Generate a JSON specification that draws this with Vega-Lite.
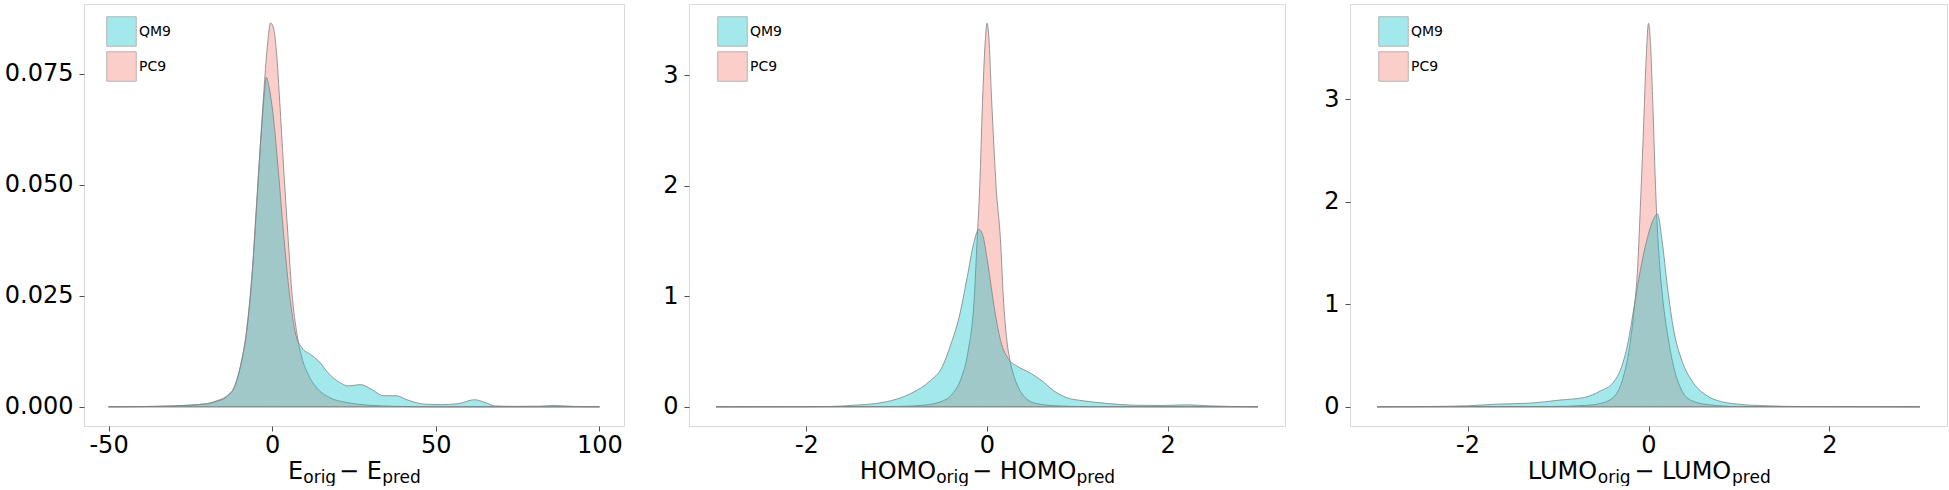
{
  "$schema": "https://vega.github.io/schema/vega-lite/v6.json",
  "padding": {"left": 3, "top": 3, "right": 0, "bottom": 0},
  "background": "white",
  "spacing": 65,
  "bounds": "flush",
  "datasets": {
    "e": [
      {"x": -50, "d": 0, "set": "QM9"}, {"x": -40, "d": 0.00005, "set": "QM9"}, {"x": -30, "d": 0.0002, "set": "QM9"}, {"x": -25, "d": 0.0004, "set": "QM9"}, {"x": -20, "d": 0.0007, "set": "QM9"}, {"x": -17, "d": 0.0012, "set": "QM9"}, {"x": -14.2, "d": 0.0021, "set": "QM9"}, {"x": -11.7, "d": 0.0043, "set": "QM9"}, {"x": -9.8, "d": 0.0088, "set": "QM9"}, {"x": -7.9, "d": 0.0163, "set": "QM9"}, {"x": -6, "d": 0.031, "set": "QM9"}, {"x": -4.7, "d": 0.046, "set": "QM9"}, {"x": -3.4, "d": 0.061, "set": "QM9"}, {"x": -2.4, "d": 0.0705, "set": "QM9"}, {"x": -1.8, "d": 0.0742, "set": "QM9"}, {"x": -0.9, "d": 0.0718, "set": "QM9"}, {"x": 0.4, "d": 0.065, "set": "QM9"}, {"x": 1.6, "d": 0.0556, "set": "QM9"}, {"x": 3.5, "d": 0.0388, "set": "QM9"}, {"x": 5.3, "d": 0.0253, "set": "QM9"}, {"x": 7.2, "d": 0.0163, "set": "QM9"}, {"x": 9.1, "d": 0.0133, "set": "QM9"}, {"x": 11.7, "d": 0.0118, "set": "QM9"}, {"x": 14.2, "d": 0.0103, "set": "QM9"}, {"x": 17.5, "d": 0.0073, "set": "QM9"}, {"x": 20.6, "d": 0.0055, "set": "QM9"}, {"x": 23.2, "d": 0.0047, "set": "QM9"}, {"x": 27, "d": 0.005, "set": "QM9"}, {"x": 30.2, "d": 0.004, "set": "QM9"}, {"x": 34, "d": 0.0025, "set": "QM9"}, {"x": 37.8, "d": 0.0025, "set": "QM9"}, {"x": 41.5, "d": 0.0015, "set": "QM9"}, {"x": 46.6, "d": 0.0006, "set": "QM9"}, {"x": 51.7, "d": 0.0005, "set": "QM9"}, {"x": 56.8, "d": 0.0007, "set": "QM9"}, {"x": 61.8, "d": 0.0016, "set": "QM9"}, {"x": 65, "d": 0.001, "set": "QM9"}, {"x": 68, "d": 0.0002, "set": "QM9"}, {"x": 75, "d": 0.0001, "set": "QM9"}, {"x": 82, "d": 0.00015, "set": "QM9"}, {"x": 86, "d": 0.0003, "set": "QM9"}, {"x": 92, "d": 0.0001, "set": "QM9"}, {"x": 100, "d": 0, "set": "QM9"},
      {"x": -50, "d": 0, "set": "PC9"}, {"x": -30, "d": 0.0002, "set": "PC9"}, {"x": -20, "d": 0.0007, "set": "PC9"}, {"x": -16.8, "d": 0.0014, "set": "PC9"}, {"x": -13.6, "d": 0.0026, "set": "PC9"}, {"x": -11.2, "d": 0.005, "set": "PC9"}, {"x": -9.6, "d": 0.0095, "set": "PC9"}, {"x": -7.9, "d": 0.0168, "set": "PC9"}, {"x": -6, "d": 0.0315, "set": "PC9"}, {"x": -4.7, "d": 0.0465, "set": "PC9"}, {"x": -3.4, "d": 0.0615, "set": "PC9"}, {"x": -2.4, "d": 0.0725, "set": "PC9"}, {"x": -1.5, "d": 0.081, "set": "PC9"}, {"x": -0.5, "d": 0.0864, "set": "PC9"}, {"x": 0.4, "d": 0.0853, "set": "PC9"}, {"x": 1.3, "d": 0.08, "set": "PC9"}, {"x": 2.3, "d": 0.0688, "set": "PC9"}, {"x": 3.5, "d": 0.0538, "set": "PC9"}, {"x": 4.8, "d": 0.0388, "set": "PC9"}, {"x": 6, "d": 0.026, "set": "PC9"}, {"x": 7.6, "d": 0.0163, "set": "PC9"}, {"x": 9.1, "d": 0.011, "set": "PC9"}, {"x": 11, "d": 0.0073, "set": "PC9"}, {"x": 13.6, "d": 0.0043, "set": "PC9"}, {"x": 17.5, "d": 0.0021, "set": "PC9"}, {"x": 22.6, "d": 0.001, "set": "PC9"}, {"x": 29, "d": 0.0004, "set": "PC9"}, {"x": 38, "d": 0.0001, "set": "PC9"}, {"x": 50, "d": 0, "set": "PC9"}, {"x": 100, "d": 0, "set": "PC9"}
    ],
    "h": [
      {"x": -3, "d": 0, "set": "QM9"}, {"x": -2, "d": 0.001, "set": "QM9"}, {"x": -1.74, "d": 0.003, "set": "QM9"}, {"x": -1.46, "d": 0.015, "set": "QM9"}, {"x": -1.23, "d": 0.03, "set": "QM9"}, {"x": -1.0, "d": 0.07, "set": "QM9"}, {"x": -0.82, "d": 0.13, "set": "QM9"}, {"x": -0.63, "d": 0.235, "set": "QM9"}, {"x": -0.5, "d": 0.355, "set": "QM9"}, {"x": -0.4, "d": 0.566, "set": "QM9"}, {"x": -0.31, "d": 0.807, "set": "QM9"}, {"x": -0.22, "d": 1.17, "set": "QM9"}, {"x": -0.15, "d": 1.47, "set": "QM9"}, {"x": -0.09, "d": 1.605, "set": "QM9"}, {"x": -0.05, "d": 1.56, "set": "QM9"}, {"x": 0.01, "d": 1.29, "set": "QM9"}, {"x": 0.08, "d": 0.9, "set": "QM9"}, {"x": 0.15, "d": 0.6, "set": "QM9"}, {"x": 0.24, "d": 0.43, "set": "QM9"}, {"x": 0.33, "d": 0.37, "set": "QM9"}, {"x": 0.47, "d": 0.31, "set": "QM9"}, {"x": 0.61, "d": 0.235, "set": "QM9"}, {"x": 0.74, "d": 0.145, "set": "QM9"}, {"x": 0.88, "d": 0.084, "set": "QM9"}, {"x": 1.07, "d": 0.054, "set": "QM9"}, {"x": 1.34, "d": 0.03, "set": "QM9"}, {"x": 1.62, "d": 0.015, "set": "QM9"}, {"x": 1.94, "d": 0.012, "set": "QM9"}, {"x": 2.22, "d": 0.018, "set": "QM9"}, {"x": 2.45, "d": 0.009, "set": "QM9"}, {"x": 2.72, "d": 0.003, "set": "QM9"}, {"x": 3, "d": 0, "set": "QM9"},
      {"x": -3, "d": 0, "set": "PC9"}, {"x": -1.0, "d": 0.003, "set": "PC9"}, {"x": -0.7, "d": 0.015, "set": "PC9"}, {"x": -0.5, "d": 0.05, "set": "PC9"}, {"x": -0.38, "d": 0.12, "set": "PC9"}, {"x": -0.29, "d": 0.25, "set": "PC9"}, {"x": -0.21, "d": 0.5, "set": "PC9"}, {"x": -0.14, "d": 1.0, "set": "PC9"}, {"x": -0.11, "d": 1.5, "set": "PC9"}, {"x": -0.08, "d": 2.0, "set": "PC9"}, {"x": -0.05, "d": 2.75, "set": "PC9"}, {"x": -0.02, "d": 3.3, "set": "PC9"}, {"x": 0.0, "d": 3.47, "set": "PC9"}, {"x": 0.02, "d": 3.35, "set": "PC9"}, {"x": 0.05, "d": 2.8, "set": "PC9"}, {"x": 0.08, "d": 2.3, "set": "PC9"}, {"x": 0.1, "d": 2.0, "set": "PC9"}, {"x": 0.15, "d": 1.5, "set": "PC9"}, {"x": 0.18, "d": 1.0, "set": "PC9"}, {"x": 0.22, "d": 0.6, "set": "PC9"}, {"x": 0.26, "d": 0.4, "set": "PC9"}, {"x": 0.31, "d": 0.25, "set": "PC9"}, {"x": 0.37, "d": 0.14, "set": "PC9"}, {"x": 0.44, "d": 0.07, "set": "PC9"}, {"x": 0.55, "d": 0.03, "set": "PC9"}, {"x": 0.75, "d": 0.01, "set": "PC9"}, {"x": 1.1, "d": 0.002, "set": "PC9"}, {"x": 3, "d": 0, "set": "PC9"}
    ],
    "l": [
      {"x": -3, "d": 0, "set": "QM9"}, {"x": -2.45, "d": 0.003, "set": "QM9"}, {"x": -2.0, "d": 0.01, "set": "QM9"}, {"x": -1.68, "d": 0.026, "set": "QM9"}, {"x": -1.31, "d": 0.036, "set": "QM9"}, {"x": -0.99, "d": 0.065, "set": "QM9"}, {"x": -0.71, "d": 0.091, "set": "QM9"}, {"x": -0.53, "d": 0.156, "set": "QM9"}, {"x": -0.39, "d": 0.238, "set": "QM9"}, {"x": -0.3, "d": 0.384, "set": "QM9"}, {"x": -0.23, "d": 0.612, "set": "QM9"}, {"x": -0.16, "d": 0.97, "set": "QM9"}, {"x": -0.09, "d": 1.33, "set": "QM9"}, {"x": -0.02, "d": 1.62, "set": "QM9"}, {"x": 0.05, "d": 1.82, "set": "QM9"}, {"x": 0.1, "d": 1.88, "set": "QM9"}, {"x": 0.15, "d": 1.62, "set": "QM9"}, {"x": 0.21, "d": 1.165, "set": "QM9"}, {"x": 0.28, "d": 0.742, "set": "QM9"}, {"x": 0.37, "d": 0.449, "set": "QM9"}, {"x": 0.48, "d": 0.254, "set": "QM9"}, {"x": 0.62, "d": 0.124, "set": "QM9"}, {"x": 0.75, "d": 0.065, "set": "QM9"}, {"x": 0.99, "d": 0.026, "set": "QM9"}, {"x": 1.31, "d": 0.01, "set": "QM9"}, {"x": 1.67, "d": 0.003, "set": "QM9"}, {"x": 3, "d": 0, "set": "QM9"},
      {"x": -3, "d": 0, "set": "PC9"}, {"x": -1.08, "d": 0.003, "set": "PC9"}, {"x": -0.71, "d": 0.013, "set": "PC9"}, {"x": -0.53, "d": 0.033, "set": "PC9"}, {"x": -0.39, "d": 0.091, "set": "PC9"}, {"x": -0.28, "d": 0.286, "set": "PC9"}, {"x": -0.21, "d": 0.58, "set": "PC9"}, {"x": -0.16, "d": 0.937, "set": "PC9"}, {"x": -0.12, "d": 1.36, "set": "PC9"}, {"x": -0.09, "d": 1.95, "set": "PC9"}, {"x": -0.06, "d": 2.6, "set": "PC9"}, {"x": -0.03, "d": 3.31, "set": "PC9"}, {"x": 0.0, "d": 3.74, "set": "PC9"}, {"x": 0.02, "d": 3.57, "set": "PC9"}, {"x": 0.05, "d": 2.89, "set": "PC9"}, {"x": 0.07, "d": 2.34, "set": "PC9"}, {"x": 0.09, "d": 1.88, "set": "PC9"}, {"x": 0.12, "d": 1.425, "set": "PC9"}, {"x": 0.16, "d": 1.035, "set": "PC9"}, {"x": 0.21, "d": 0.71, "set": "PC9"}, {"x": 0.28, "d": 0.384, "set": "PC9"}, {"x": 0.37, "d": 0.156, "set": "PC9"}, {"x": 0.48, "d": 0.059, "set": "PC9"}, {"x": 0.67, "d": 0.02, "set": "PC9"}, {"x": 0.99, "d": 0.003, "set": "PC9"}, {"x": 3, "d": 0, "set": "PC9"}
    ]
  },
  "hconcat": [
    {
      "width": 540, "height": 422,
      "data": {"name": "e"},
      "layer": [
        {"transform": [{"filter": "datum.set === 'PC9'"}],
         "mark": {"type": "area", "interpolate": "monotone", "stroke": "#808080", "strokeWidth": 0.8, "opacity": 1},
         "encoding": {
           "x": {"field": "x", "type": "quantitative", "scale": {"domain": [-57.5, 107.5], "nice": false, "zero": false},
                 "axis": {"orient": "bottom", "values": [-50, 0, 50, 100], "labelPadding": 2, "labelExpr": "replace(datum.label, '−', '-')", "title": "E", "titleX": 211.1, "titleY": 52.4, "titleFontSize": 24, "titleBaseline": "alphabetic", "titleAlign": "center"}},
           "y": {"field": "d", "type": "quantitative", "scale": {"domain": [-0.00432, 0.0907], "nice": false, "zero": false},
                 "axis": {"values": [0, 0.025, 0.05, 0.075], "format": ".3f", "title": null}},
           "color": {"field": "set", "type": "nominal", "scale": {"domain": ["QM9", "PC9"], "range": ["rgba(0,191,196,0.36)", "rgba(248,118,109,0.36)"]},
                     "legend": {"title": null, "orient": "none", "legendX": 22, "legendY": 12}}
         }},
        {"transform": [{"filter": "datum.set === 'QM9'"}],
         "mark": {"type": "area", "interpolate": "monotone", "stroke": "#808080", "strokeWidth": 0.8, "opacity": 1},
         "encoding": {
           "x": {"field": "x", "type": "quantitative", "axis": null},
           "y": {"field": "d", "type": "quantitative", "axis": {"values": [0, 0.025, 0.05, 0.075], "format": ".3f", "title": null}},
           "color": {"field": "set", "type": "nominal", "scale": {"domain": ["QM9", "PC9"], "range": ["rgba(0,191,196,0.36)", "rgba(248,118,109,0.36)"]},
                     "legend": {"title": null, "orient": "none", "legendX": 22, "legendY": 12}}
         }},
        {"mark": {"type": "point", "opacity": 0},
         "encoding": {"x": {"field": "x", "type": "quantitative", "axis": {"orient": "bottom", "labels": false, "ticks": false, "domain": false, "title": "orig", "titleX": 235.2, "titleY": 56.5, "titleFontSize": 17, "titleBaseline": "alphabetic", "titleAlign": "center"}}}},
        {"mark": {"type": "point", "opacity": 0},
         "encoding": {"x": {"field": "x", "type": "quantitative", "axis": {"orient": "bottom", "labels": false, "ticks": false, "domain": false, "title": "− E", "titleX": 276, "titleY": 52.4, "titleFontSize": 24, "titleBaseline": "alphabetic", "titleAlign": "center"}}}},
        {"mark": {"type": "point", "opacity": 0},
         "encoding": {"x": {"field": "x", "type": "quantitative", "axis": {"orient": "bottom", "labels": false, "ticks": false, "domain": false, "title": "pred", "titleX": 317, "titleY": 56.5, "titleFontSize": 17, "titleBaseline": "alphabetic", "titleAlign": "center"}}}}
      ],
      "resolve": {"axis": {"x": "independent"}}
    },
    {
      "width": 596, "height": 422,
      "data": {"name": "h"},
      "layer": [
        {"transform": [{"filter": "datum.set === 'PC9'"}],
         "mark": {"type": "area", "interpolate": "monotone", "stroke": "#808080", "strokeWidth": 0.8, "opacity": 1},
         "encoding": {
           "x": {"field": "x", "type": "quantitative", "scale": {"domain": [-3.3, 3.3], "nice": false, "zero": false},
                 "axis": {"orient": "bottom", "values": [-2, 0, 2], "labelPadding": 2, "labelExpr": "replace(datum.label, '−', '-')", "title": "HOMO", "titleX": 208.4, "titleY": 52.4, "titleFontSize": 24, "titleBaseline": "alphabetic", "titleAlign": "center"}},
           "y": {"field": "d", "type": "quantitative", "scale": {"domain": [-0.1735, 3.6435], "nice": false, "zero": false},
                 "axis": {"values": [0, 1, 2, 3], "format": "d", "title": null}},
           "color": {"field": "set", "type": "nominal", "scale": {"domain": ["QM9", "PC9"], "range": ["rgba(0,191,196,0.36)", "rgba(248,118,109,0.36)"]},
                     "legend": {"title": null, "orient": "none", "legendX": 28, "legendY": 12}}
         }},
        {"transform": [{"filter": "datum.set === 'QM9'"}],
         "mark": {"type": "area", "interpolate": "monotone", "stroke": "#808080", "strokeWidth": 0.8, "opacity": 1},
         "encoding": {
           "x": {"field": "x", "type": "quantitative", "axis": null},
           "y": {"field": "d", "type": "quantitative", "axis": {"values": [0, 1, 2, 3], "format": "d", "title": null}},
           "color": {"field": "set", "type": "nominal", "scale": {"domain": ["QM9", "PC9"], "range": ["rgba(0,191,196,0.36)", "rgba(248,118,109,0.36)"]},
                     "legend": {"title": null, "orient": "none", "legendX": 28, "legendY": 12}}
         }},
        {"mark": {"type": "point", "opacity": 0},
         "encoding": {"x": {"field": "x", "type": "quantitative", "axis": {"orient": "bottom", "labels": false, "ticks": false, "domain": false, "title": "orig", "titleX": 263.1, "titleY": 56.5, "titleFontSize": 17, "titleBaseline": "alphabetic", "titleAlign": "center"}}}},
        {"mark": {"type": "point", "opacity": 0},
         "encoding": {"x": {"field": "x", "type": "quantitative", "axis": {"orient": "bottom", "labels": false, "ticks": false, "domain": false, "title": "− HOMO", "titleX": 334.7, "titleY": 52.4, "titleFontSize": 24, "titleBaseline": "alphabetic", "titleAlign": "center"}}}},
        {"mark": {"type": "point", "opacity": 0},
         "encoding": {"x": {"field": "x", "type": "quantitative", "axis": {"orient": "bottom", "labels": false, "ticks": false, "domain": false, "title": "pred", "titleX": 406.3, "titleY": 56.5, "titleFontSize": 17, "titleBaseline": "alphabetic", "titleAlign": "center"}}}}
      ],
      "resolve": {"axis": {"x": "independent"}}
    },
    {
      "width": 597, "height": 422,
      "data": {"name": "l"},
      "layer": [
        {"transform": [{"filter": "datum.set === 'PC9'"}],
         "mark": {"type": "area", "interpolate": "monotone", "stroke": "#808080", "strokeWidth": 0.8, "opacity": 1},
         "encoding": {
           "x": {"field": "x", "type": "quantitative", "scale": {"domain": [-3.3, 3.3], "nice": false, "zero": false},
                 "axis": {"orient": "bottom", "values": [-2, 0, 2], "labelPadding": 2, "labelExpr": "replace(datum.label, '−', '-')", "title": "LUMO", "titleX": 211.9, "titleY": 52.4, "titleFontSize": 24, "titleBaseline": "alphabetic", "titleAlign": "center"}},
           "y": {"field": "d", "type": "quantitative", "scale": {"domain": [-0.187, 3.927], "nice": false, "zero": false},
                 "axis": {"values": [0, 1, 2, 3], "format": "d", "title": null}},
           "color": {"field": "set", "type": "nominal", "scale": {"domain": ["QM9", "PC9"], "range": ["rgba(0,191,196,0.36)", "rgba(248,118,109,0.36)"]},
                     "legend": {"title": null, "orient": "none", "legendX": 28, "legendY": 12}}
         }},
        {"transform": [{"filter": "datum.set === 'QM9'"}],
         "mark": {"type": "area", "interpolate": "monotone", "stroke": "#808080", "strokeWidth": 0.8, "opacity": 1},
         "encoding": {
           "x": {"field": "x", "type": "quantitative", "axis": null},
           "y": {"field": "d", "type": "quantitative", "axis": {"values": [0, 1, 2, 3], "format": "d", "title": null}},
           "color": {"field": "set", "type": "nominal", "scale": {"domain": ["QM9", "PC9"], "range": ["rgba(0,191,196,0.36)", "rgba(248,118,109,0.36)"]},
                     "legend": {"title": null, "orient": "none", "legendX": 28, "legendY": 12}}
         }},
        {"mark": {"type": "point", "opacity": 0},
         "encoding": {"x": {"field": "x", "type": "quantitative", "axis": {"orient": "bottom", "labels": false, "ticks": false, "domain": false, "title": "orig", "titleX": 263.7, "titleY": 56.5, "titleFontSize": 17, "titleBaseline": "alphabetic", "titleAlign": "center"}}}},
        {"mark": {"type": "point", "opacity": 0},
         "encoding": {"x": {"field": "x", "type": "quantitative", "axis": {"orient": "bottom", "labels": false, "ticks": false, "domain": false, "title": "− LUMO", "titleX": 332.2, "titleY": 52.4, "titleFontSize": 24, "titleBaseline": "alphabetic", "titleAlign": "center"}}}},
        {"mark": {"type": "point", "opacity": 0},
         "encoding": {"x": {"field": "x", "type": "quantitative", "axis": {"orient": "bottom", "labels": false, "ticks": false, "domain": false, "title": "pred", "titleX": 400.9, "titleY": 56.5, "titleFontSize": 17, "titleBaseline": "alphabetic", "titleAlign": "center"}}}}
      ],
      "resolve": {"axis": {"x": "independent"}}
    }
  ],
  "resolve": {"scale": {"color": "independent"}, "legend": {"color": "independent"}},
  "config": {
    "view": {"stroke": "#d9d9d9", "strokeWidth": 1},
    "axis": {"domain": false, "grid": false, "tickColor": "#4d4d4d", "tickSize": 5, "tickWidth": 1, "labelFont": "DejaVu Sans", "labelFontSize": 24, "labelColor": "#000000", "labelPadding": 6, "titleFont": "DejaVu Sans", "titleFontWeight": "normal", "titleColor": "#000000"},
    "legend": {"symbolType": "square", "symbolSize": 870, "symbolStrokeColor": "#b3b3b3", "symbolStrokeWidth": 1, "labelFont": "DejaVu Sans", "labelFontSize": 14, "labelColor": "#000000", "labelOffset": 2, "rowPadding": 0, "padding": 0}
  }
}
